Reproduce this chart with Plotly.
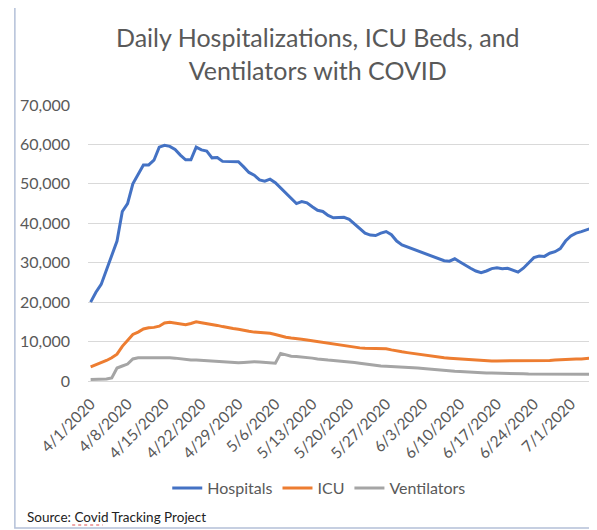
import plotly.graph_objects as go
import datetime as dt

start = dt.date(2020, 4, 1)
dates = [f"{(start + dt.timedelta(days=i)).month}/{(start + dt.timedelta(days=i)).day}/2020" for i in range(96)]

hospitals = [
    20000, 22500, 24500, 28000, 31500, 35500, 43000, 45000, 50000, 52500,
    54800, 54800, 56000, 59300, 59800, 59500, 58700, 57300, 56100, 56100,
    59300, 58600, 58300, 56600, 56700, 55700, 55700, 55700, 55600, 54300,
    52900, 52200, 51000, 50700, 51200, 50300, 49000, 47800, 46500, 45000,
    45500, 45200, 44200, 43300, 43000, 42000, 41400, 41500, 41500, 41000,
    39800, 38500, 37500, 37000, 36900, 37500, 37900, 37100, 35500, 34500,
    34000, 33400, 32900, 32400, 31800, 31300, 30900, 30500, 30400, 31000,
    30200, 29300, 28600, 27900, 27500, 27900, 28500, 28700, 28500, 28600,
    28000, 27600, 28600, 30000, 31300, 31700, 31600, 32400, 32800, 33600,
    35500, 36800, 37500, 37900, 38300, 38800,
]

icu = [
    3600, 4100, 4700, 5200, 5900, 6800, 8800, 10200, 11800, 12400,
    13200, 13500, 13600, 13900, 14700, 14900, 14700, 14500, 14300, 14600,
    15000, 14800, 14600, 14300, 14100, 13800, 13500, 13300, 13100, 12800,
    12600, 12400, 12300, 12200, 12100, 11800, 11400, 11100, 10900, 10800,
    10600, 10400, 10200, 10000, 9800, 9600, 9300, 9100, 9000, 8800,
    8600, 8400, 8300, 8300, 8300, 8300, 8200, 7900, 7600, 7400,
    7200, 7000, 6800, 6600, 6400, 6200, 6100, 5900, 5800, 5700,
    5600, 5500, 5400, 5300, 5300, 5200, 5100, 5100, 5100, 5100,
    5100, 5200, 5100, 5100, 5100, 5100, 5100, 5200, 5300, 5400,
    5500, 5500, 5600, 5600, 5700, 5800,
]

ventilators = [
    400, 400, 450, 500, 800, 3300, 3800, 4300, 5600, 5900,
    5900, 5900, 5950, 6000, 5950, 5900, 5800, 5600, 5400, 5300,
    5300, 5200, 5100, 5000, 4900, 4800, 4700, 4600, 4600, 4700,
    4800, 4900, 4800, 4700, 4600, 4500, 7000, 6600, 6300, 6200,
    6100, 6000, 5800, 5600, 5400, 5300, 5200, 5100, 5000, 4900,
    4700, 4500, 4300, 4100, 3900, 3800, 3750, 3700, 3650, 3550,
    3500, 3400, 3300, 3200, 3050, 2900, 2800, 2650, 2550, 2450,
    2400, 2300, 2250, 2200, 2100, 2050, 2000, 2000, 1950, 1900,
    1900, 1850, 1850, 1800, 1800, 1800, 1750, 1750, 1750, 1700,
    1700, 1700, 1700, 1700, 1700, 1700,
]

tick_labels = dates[::7]
y_ticks = [0, 10000, 20000, 30000, 40000, 50000, 60000, 70000]

series = [
    ("Hospitals", hospitals, "#4472C4"),
    ("ICU", icu, "#ED7D31"),
    ("Ventilators", ventilators, "#A5A5A5"),
]

fig = go.Figure()
for name, vals, color in series:
    fig.add_trace(go.Scatter(x=dates, y=vals, name=name, mode="lines",
                             line=dict(color=color, width=3)))

# page body has an 8px margin: figure origin sits at (8, 8) in the window
OFF = 8
W, H = 597, 530
# target plot area in window pixels: x 82..593, y 105..381
PX0, PX1, PY0, PY1 = 82, 593, 105, 381
pw = PX1 - PX0
ph = PY1 - PY0

def px(x):
    return (x - PX0) / pw

def py(y):
    return (PY1 - y) / ph

font = "Lato, 'Open Sans', sans-serif"
gray = "#595959"

fig.update_layout(
    width=W, height=H,
    margin=dict(l=PX0 - OFF, r=W - (PX1 - OFF), t=PY0 - OFF, b=H - (PY1 - OFF)),
    paper_bgcolor="white", plot_bgcolor="white",
    font=dict(family=font, color=gray, size=13),
    showlegend=True,
    legend=dict(orientation="h", x=px(316), xanchor="center", y=py(488), yanchor="middle",
                font=dict(size=16, color=gray), itemwidth=30, tracegroupgap=0),
    xaxis=dict(type="category", range=[-0.5, 95.2], tickmode="array",
               tickvals=tick_labels, ticktext=tick_labels, tickangle=-45,
               showgrid=False, showline=False, zeroline=False,
               ticks="", ticklabelstandoff=10,
               tickfont=dict(size=15.5, color=gray)),
    yaxis=dict(range=[0, 70000], tickvals=y_ticks, tickformat=",d",
               showgrid=True, gridcolor="#D9D9D9", gridwidth=1,
               zeroline=True, zerolinecolor="#D9D9D9", zerolinewidth=1,
               showline=False, ticks="", ticklabelstandoff=17,
               tickfont=dict(size=16, color=gray)),
    annotations=[
        dict(text="Daily Hospitalizations, ICU Beds, and<br>Ventilators with COVID",
             xref="paper", yref="paper", x=px(315), y=py(53), xanchor="center", yanchor="middle",
             showarrow=False, font=dict(size=25, color="#595959", family=font), align="center"),
        dict(text="Source: Covid Tracking Project",
             xref="paper", yref="paper", x=px(18), y=py(517), xanchor="left", yanchor="middle",
             showarrow=False, font=dict(size=13.5, color="#222222", family=font)),
    ],
    shapes=[
        dict(type="rect", xref="paper", yref="paper", x0=px(8), x1=px(640), y0=py(528), y1=py(7),
             line=dict(color="#B4C0D8", width=1.5), fillcolor="rgba(0,0,0,0)", layer="below"),
        dict(type="line", xref="paper", yref="paper", x0=px(66), x1=px(97), y0=py(525), y1=py(525),
             line=dict(color="#E05050", width=1, dash="dot")),
    ],
)

fig.write_html("out.html")
